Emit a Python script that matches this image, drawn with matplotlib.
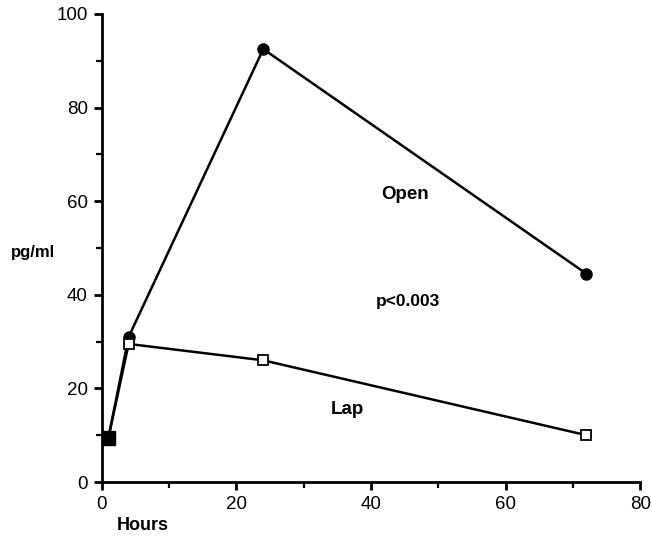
import matplotlib
matplotlib.use("Agg")
import matplotlib.pyplot as plt
from matplotlib.ticker import MultipleLocator

plt.rcParams['font.family'] = ['Liberation Sans', 'DejaVu Sans']

hours = [1, 4, 24, 72]
open_vals = [9.5, 31, 92.5, 44.5]
lap_vals = [9.5, 29.5, 26, 10]

fig = plt.figure(figsize=(6.52, 5.37), dpi=100)
ax = fig.add_axes([0.156, 0.1024, 0.826, 0.8716])

ax.plot(hours, open_vals, color='black', lw=1.8, marker='o', ms=8,
        mfc='black', mec='black', zorder=3)
ax.plot(hours, lap_vals, color='black', lw=1.8, marker='s', ms=7,
        mfc='white', mec='black', mew=1.3, zorder=4)
# first point: both markers overlap into a solid blob
ax.plot(hours[:1], lap_vals[:1], marker='s', ms=10, color='black', zorder=5)

ax.set_xlim(0, 80)
ax.set_ylim(0, 100)
ax.xaxis.set_major_locator(MultipleLocator(20))
ax.xaxis.set_minor_locator(MultipleLocator(10))
ax.yaxis.set_major_locator(MultipleLocator(20))
ax.yaxis.set_minor_locator(MultipleLocator(10))

for s in ['top', 'right']:
    ax.spines[s].set_visible(False)
for s in ['left', 'bottom']:
    ax.spines[s].set_linewidth(2)

ax.tick_params(which='major', direction='out', length=6, width=2,
               labelsize=13.5, pad=4)
ax.tick_params(which='minor', direction='out', length=4, width=1.6)

ax.text(45, 61.5, 'Open', fontsize=13.5, fontweight='bold', ha='center', va='center')
ax.text(45.5, 38.5, 'p<0.003', fontsize=12.5, fontweight='bold', ha='center', va='center')
ax.text(36.5, 15.5, 'Lap', fontsize=13.5, fontweight='bold', ha='center', va='center')

fig.text(143 / 652, 1 - 526 / 537, 'Hours', fontsize=13, fontweight='bold',
         ha='center', va='center')
fig.text(33 / 652, 1 - 253 / 537, 'pg/ml', fontsize=12, fontweight='bold',
         ha='center', va='center')

fig.savefig('out.png', dpi=100)
